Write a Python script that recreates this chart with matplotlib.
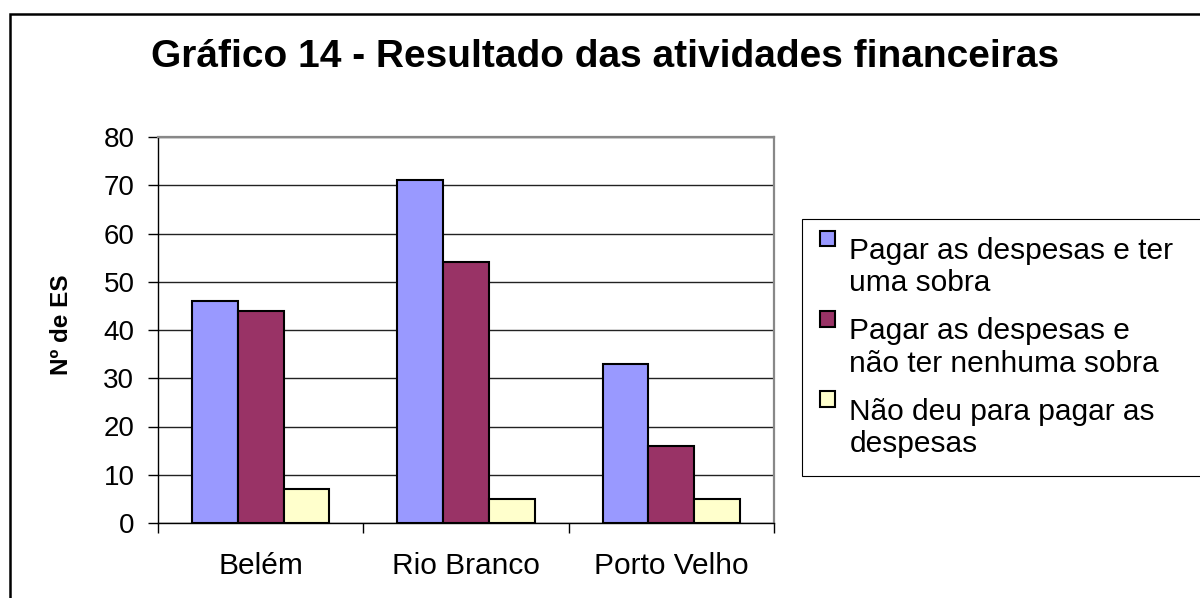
import matplotlib
matplotlib.use("Agg")
import matplotlib.pyplot as plt
import numpy as np
from matplotlib.patches import Rectangle
from matplotlib.legend_handler import HandlerPatch

# dados do gráfico
cidades = ["Belém", "Rio Branco", "Porto Velho"]
sobra = [46, 71, 33]          # pagar as despesas e ter uma sobra
sem_sobra = [44, 54, 16]      # pagar as despesas e não ter nenhuma sobra
nao_deu = [7, 5, 5]           # não deu para pagar as despesas
series_labels = ["Pagar as despesas e ter\numa sobra",
                 "Pagar as despesas e\nnão ter nenhuma sobra",
                 "Não deu para pagar as\ndespesas"]
series_colors = ["#9999FF", "#993366", "#FFFFCC"]
yticks = np.arange(0, 90, 10)

titulo = "Gráfico 14 - Resultado das atividades financeiras"
ylabel = "Nº de ES"

# estilo
leg_fs = 21.5
leg_ls = 1.2
plt.rcParams['font.family'] = ['Liberation Sans', 'DejaVu Sans']

fig = plt.figure(figsize=(12, 5.98), dpi=100)
ax = fig.add_axes([158/1200, 1 - 523/598, 616/1200, 386/598])

x = np.arange(len(cidades))
w = 0.2225
bars = []
for i, (vals, col, lab) in enumerate(zip([sobra, sem_sobra, nao_deu], series_colors, series_labels)):
    b = ax.bar(x + (i - 1) * w, vals, w, color=col, edgecolor='black', linewidth=1.5, label=lab, zorder=3)
    bars.append(b)

ax.set_xlim(-0.5, 2.5)
ax.set_ylim(0, 80)
ax.set_yticks(yticks)
ax.tick_params(axis='y', length=7, width=1, pad=10, labelsize=20, direction='out')
ax.set_xticks([-0.5, 0.5, 1.5, 2.5])
ax.set_xticklabels([])
ax.set_xticks(x, minor=True)
ax.set_xticklabels(cidades, minor=True)
ax.tick_params(axis='x', which='major', length=7, width=1, direction='out')
ax.tick_params(axis='x', which='minor', length=0, pad=21, labelsize=21.5)
ax.grid(axis='y', color='#222222', linewidth=1)
ax.set_axisbelow(True)

for s in ['left', 'bottom']:
    ax.spines[s].set_color('black')
    ax.spines[s].set_linewidth(1)
for s in ['top', 'right']:
    ax.spines[s].set_color('#888888')
    ax.spines[s].set_linewidth(1.6)

ax.set_ylabel(ylabel, fontsize=17.5, fontweight='bold')
ax.yaxis.set_label_coords(-0.138, 0.513)

fig.text(605/1200, 1 - 57/598, titulo, ha='center', va='center', fontsize=28, fontweight='bold')


# quadradinho alinhado com a primeira linha do rótulo
def square_handle(legend, orig_handle, xdescent, ydescent, width, height, fontsize):
    off = fontsize * (0.21 + 0.716 * leg_ls)
    return Rectangle((-xdescent, off), width, width)


handles = [b.patches[0] for b in bars]
leg = fig.legend(handles, series_labels, loc='upper left',
                 bbox_to_anchor=(802/1200, 0.1, 0.6, 1 - 219/598 - 0.1),
                 mode='expand', borderaxespad=0, fontsize=leg_fs,
                 handlelength=0.52, handleheight=0.52, handletextpad=0.47,
                 borderpad=0.6, labelspacing=0.67, fancybox=False, framealpha=1,
                 handler_map={Rectangle: HandlerPatch(patch_func=square_handle)})
leg.get_frame().set_edgecolor('black')
leg.get_frame().set_linewidth(0.8)
for t in leg.get_texts():
    t.set_linespacing(leg_ls)

# moldura externa
fig.add_artist(Rectangle((10/1200, -0.05), 1.1, 1 - 14/598 + 0.05, transform=fig.transFigure,
                         fill=False, edgecolor='black', linewidth=1.8))

fig.savefig("out.png", dpi=100)
